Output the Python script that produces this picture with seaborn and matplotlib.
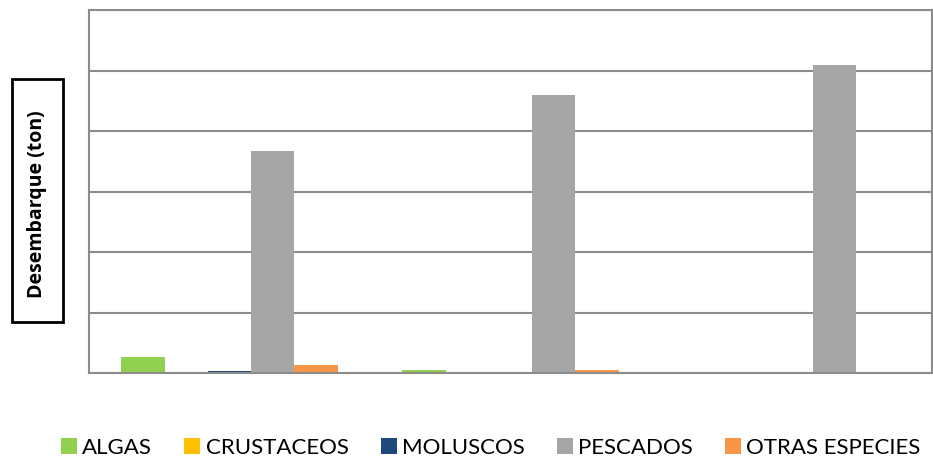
import matplotlib
matplotlib.use("Agg")
import matplotlib.pyplot as plt
import matplotlib.patches as mpatches
import pandas as pd
import seaborn as sns

# Landings per period and species group (tons)
periodos = ["P1", "P2", "P3"]
especies = ["ALGAS", "CRUSTACEOS", "MOLUSCOS", "PESCADOS", "OTRAS ESPECIES"]
algas = [260, 50, 6]
crustaceos = [20, 5, 6]
moluscos = [30, 6, 12]
pescados = [3670, 4600, 5090]
otras = [130, 55, 4]
colores = ["#92D050", "#FFC000", "#1F497D", "#A6A6A6", "#F79646"]

series = [algas, crustaceos, moluscos, pescados, otras]
df = pd.DataFrame(
    [(p, e, v[i]) for e, v in zip(especies, series) for i, p in enumerate(periodos)],
    columns=["periodo", "especie", "ton"],
)

sns.set_theme(style="white")
plt.rcParams["font.family"] = ["Lato", "DejaVu Sans"]

fig = plt.figure(figsize=(9.33, 4.59), dpi=100)
ax = fig.add_axes([89 / 933, 1 - 373 / 459, 843 / 933, 363 / 459])

sns.barplot(
    data=df, x="periodo", y="ton", hue="especie",
    order=periodos, hue_order=especies, palette=colores,
    width=0.77, ax=ax, linewidth=0, saturation=1,
)

ax.set_ylim(0, 6000)
ax.set_xlim(-0.5, 2.5)
ax.set_yticks(range(0, 6001, 1000))
ax.yaxis.grid(True, color="#8c8c8c", linewidth=1.5)
ax.set_axisbelow(True)
ax.set_yticklabels([])
ax.set_xticklabels([])
ax.tick_params(length=0)
ax.set_xlabel("")
ax.set_ylabel("")
for s in ax.spines.values():
    s.set_color("#8c8c8c")
    s.set_linewidth(1.5)

handles, labels = ax.get_legend_handles_labels()
ax.get_legend().remove()
fig.legend(
    handles, labels, loc="center", bbox_to_anchor=(0.526, 0.024), ncol=5,
    frameon=False, fontsize=16, handlelength=0.72, handleheight=0.72,
    handletextpad=0.23, columnspacing=1.45, borderpad=0, labelcolor="black",
)

# Boxed axis title
fig.patches.append(mpatches.Rectangle(
    (12 / 933, 1 - 322 / 459), 51 / 933, 243 / 459,
    transform=fig.transFigure, fill=False, edgecolor="black", linewidth=2,
))
fig.text(37.5 / 933, 1 - 204 / 459, "Desembarque (ton)", rotation=90,
         ha="center", va="center", fontsize=14, fontweight="bold",
         color="black", family=["Open Sans", "DejaVu Sans"])

fig.savefig("out.png", dpi=100)
